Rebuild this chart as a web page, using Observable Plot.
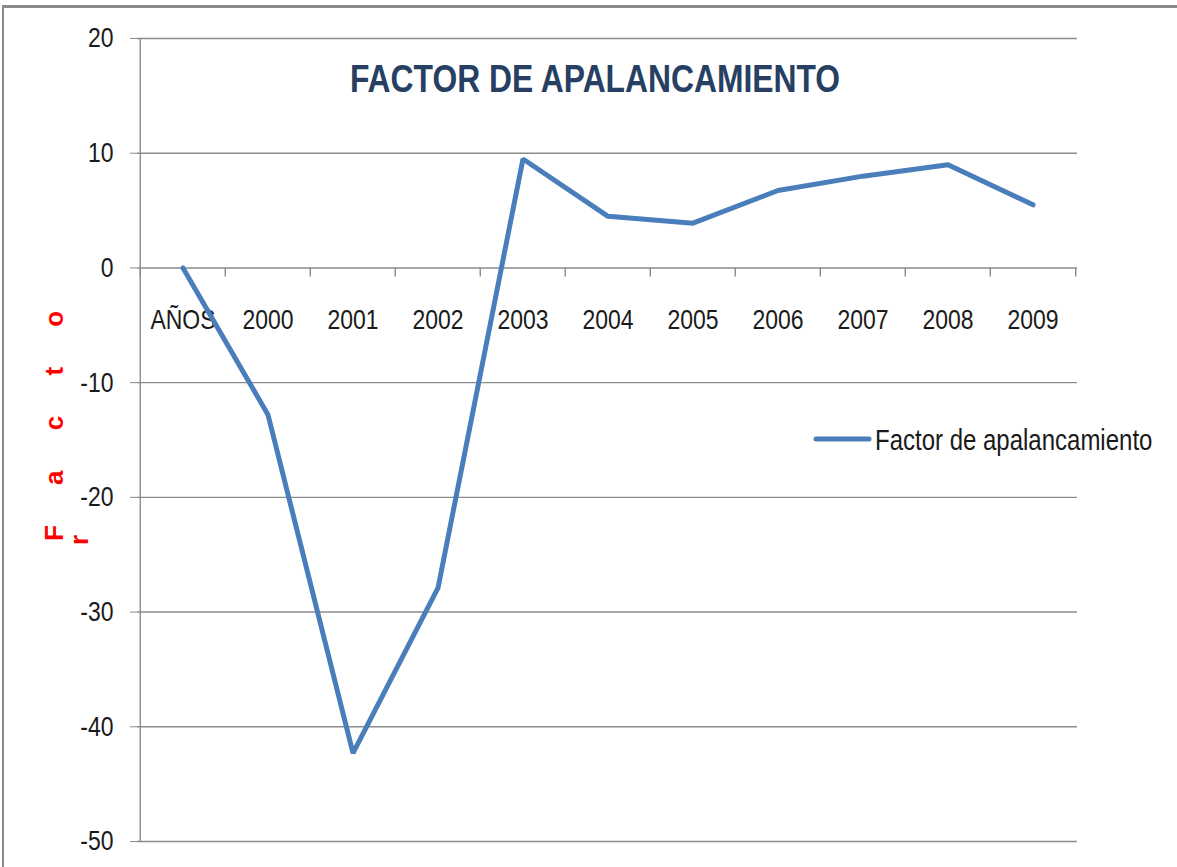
<!DOCTYPE html>
<html>
<head>
<meta charset="utf-8">
<script src="https://cdn.jsdelivr.net/npm/d3@7"></script>
<script src="https://cdn.jsdelivr.net/npm/@observablehq/plot@0.6"></script>
<style>
  html, body { margin: 0; padding: 0; background: #ffffff; }
  #frame { position: absolute; left: 2px; top: 5px; width: 1200px; height: 900px;
           border-top: 3px solid #8a8a8a; border-left: 2px solid #8a8a8a; }
  #chart { position: absolute; left: 0; top: 0; }
  #chart svg [aria-label^="y-axis"] line,
  #chart svg [aria-label^="y-axis"] path { stroke: #8c8c8c; }
</style>
</head>
<body>
<div id="frame"></div>
<div id="chart"></div>
<script>
// ---- data ----
const categories = ["AÑOS", "2000", "2001", "2002", "2003", "2004", "2005", "2006", "2007", "2008", "2009"];
const values = [0, -12.8, -42.3, -27.9, 9.5, 4.5, 3.9, 6.75, 8.0, 9.0, 5.5];
const yTicks = [-50, -40, -30, -20, -10, 0, 10, 20];
const chartTitle = "FACTOR DE APALANCAMIENTO";
const seriesName = "Factor de apalancamiento";
const yLabelMain = "F a c t o";
const yLabelWrap = "r";

const data = categories.map((c, i) => ({cat: c, v: values[i]}));

const FONT = "'Liberation Sans', Arial, sans-serif";
const W = 1177, H = 867;
const mL = 137, mR = 100, mT = 38, mB = 26;
const bw = (W - mL - mR) / categories.length;
const gridColor = "#8c8c8c";
const lineColor = "#4a7ebb";

const plot = Plot.plot({
  width: W,
  height: H,
  marginLeft: mL, marginRight: mR, marginTop: mT, marginBottom: mB,
  style: {background: "transparent", fontFamily: FONT, fontSize: "28px", color: "#1a1a1a", overflow: "visible"},
  x: {type: "band", domain: categories, paddingInner: 0, paddingOuter: 0, axis: null},
  y: {domain: [-50, 20], ticks: yTicks, tickSize: 7, tickPadding: 17, tickFormat: d => String(d), label: null},
  marks: [
    Plot.ruleY(yTicks, {stroke: gridColor, strokeWidth: 1.4}),
    Plot.ruleX([categories[0]], {x: d => d, y1: -50, y2: 20, dx: -bw / 2, stroke: gridColor, strokeWidth: 1.4}),
    Plot.ruleX(categories, {x: d => d, y1: 0, y2: -0.8, dx: -bw / 2, stroke: gridColor, strokeWidth: 1.4}),
    Plot.ruleX([categories[categories.length - 1]], {x: d => d, y1: 0, y2: -0.8, dx: bw / 2, stroke: gridColor, strokeWidth: 1.4}),
    Plot.text(categories, {x: d => d, y: d => 0, text: d => d, dy: 52.5, fill: "#1a1a1a", fontSize: 28}),
    Plot.line(data, {x: "cat", y: "v", stroke: lineColor, strokeWidth: 5, strokeLinejoin: "miter"})
  ]
});

document.getElementById("chart").appendChild(plot);

// narrow the Calibri-like labels horizontally
function squeeze(el, factor) {
  const len = el.getComputedTextLength();
  el.setAttribute("textLength", (len * factor).toFixed(2));
  el.setAttribute("lengthAdjust", "spacingAndGlyphs");
}
plot.querySelectorAll("text").forEach(t => squeeze(t, 0.82));

const svg = d3.select(plot);

// title (horizontally narrowed via transform)
svg.append("text")
  .attr("transform", "translate(595,92) scale(0.816,1)")
  .attr("text-anchor", "middle")
  .style("font-family", FONT)
  .style("font-weight", "bold")
  .style("font-size", "39px")
  .attr("fill", "#263f62")
  .text(chartTitle);

// y-axis title (rotated, wrapped)
svg.append("text")
  .attr("transform", "translate(63,541) rotate(-90)")
  .attr("text-anchor", "start")
  .style("font-family", FONT)
  .style("font-weight", "bold")
  .style("font-size", "26px")
  .style("letter-spacing", "16.5px")
  .attr("fill", "#ff0000")
  .text(yLabelMain);
svg.append("text")
  .attr("transform", "translate(88,545) rotate(-90)")
  .attr("text-anchor", "start")
  .style("font-family", FONT)
  .style("font-weight", "bold")
  .style("font-size", "26px")
  .attr("fill", "#ff0000")
  .text(yLabelWrap);

// legend
const lg = svg.append("g");
lg.append("line")
  .attr("x1", 816).attr("x2", 869).attr("y1", 439).attr("y2", 439)
  .attr("stroke", lineColor).attr("stroke-width", 5).attr("stroke-linecap", "round");
lg.append("text")
  .attr("transform", "translate(875,450) scale(0.80,1)")
  .attr("text-anchor", "start")
  .style("font-family", FONT)
  .style("font-size", "30px")
  .attr("fill", "#1a1a1a")
  .text(seriesName);
</script>
</body>
</html>
